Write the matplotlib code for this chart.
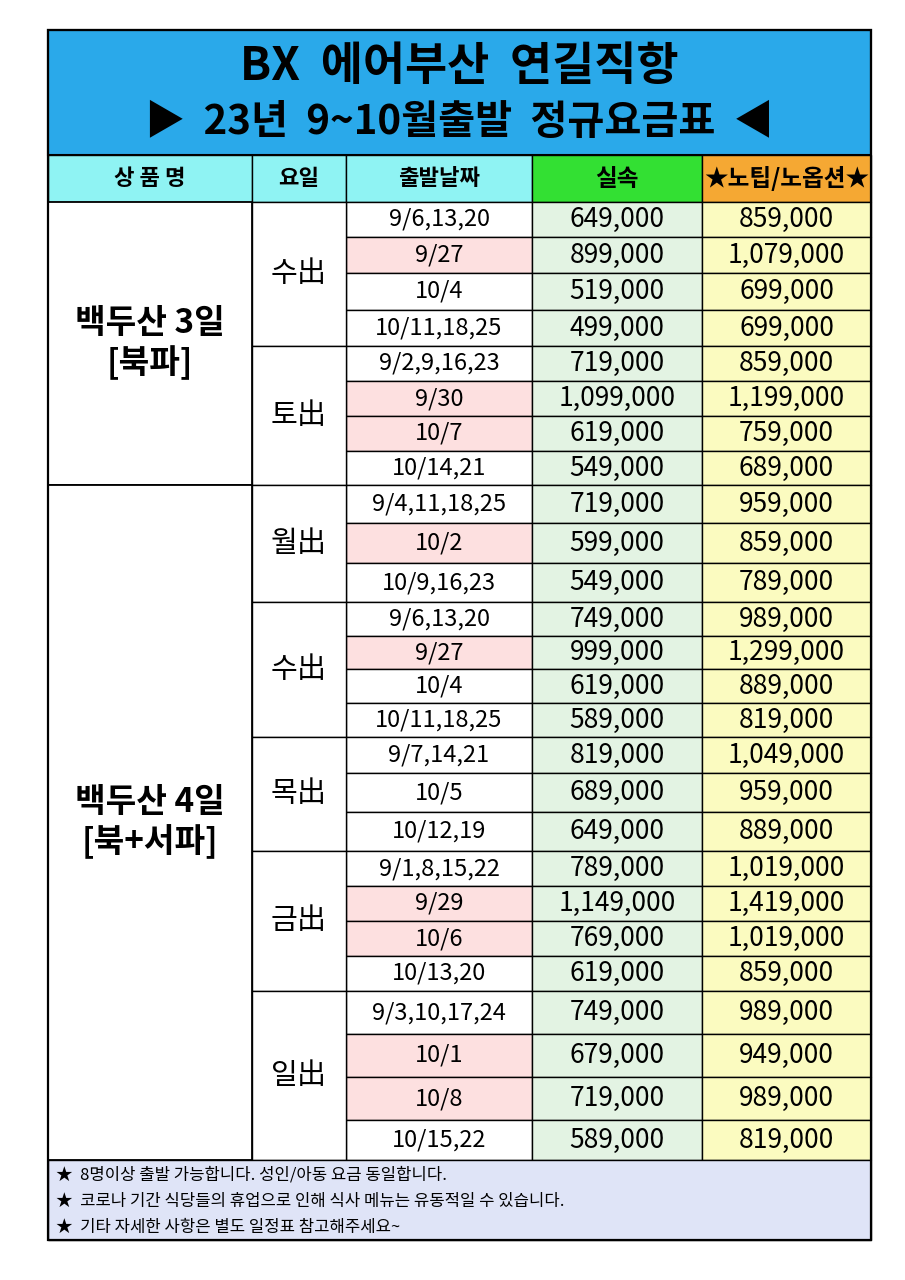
import matplotlib
matplotlib.use("Agg")
import matplotlib.pyplot as plt
from matplotlib.patches import Rectangle

plt.rcParams['font.family'] = ['Noto Sans CJK KR', 'DejaVu Sans']

title1 = "BX  에어부산  연길직항"
title2 = "▶  23년  9~10월출발  정규요금표  ◀"
headers = ["상 품 명", "요일", "출발날짜", "실속", "★노팁/노옵션★"]

products = ["백두산 3일\n[북파]", "백두산 4일\n[북+서파]"]
days = [["수出", "토出"], ["월出", "수出", "목出", "금出", "일出"]]
dates = [
    [["9/6,13,20", "9/27", "10/4", "10/11,18,25"],
     ["9/2,9,16,23", "9/30", "10/7", "10/14,21"]],
    [["9/4,11,18,25", "10/2", "10/9,16,23"],
     ["9/6,13,20", "9/27", "10/4", "10/11,18,25"],
     ["9/7,14,21", "10/5", "10/12,19"],
     ["9/1,8,15,22", "9/29", "10/6", "10/13,20"],
     ["9/3,10,17,24", "10/1", "10/8", "10/15,22"]],
]
silsok = [
    [[649000, 899000, 519000, 499000], [719000, 1099000, 619000, 549000]],
    [[719000, 599000, 549000], [749000, 999000, 619000, 589000],
     [819000, 689000, 649000], [789000, 1149000, 769000, 619000],
     [749000, 679000, 719000, 589000]],
]
notip = [
    [[859000, 1079000, 699000, 699000], [859000, 1199000, 759000, 689000]],
    [[959000, 859000, 789000], [989000, 1299000, 889000, 819000],
     [1049000, 959000, 889000], [1019000, 1419000, 1019000, 859000],
     [989000, 949000, 989000, 819000]],
]
pink = [
    [[0, 1, 0, 0], [0, 1, 1, 0]],
    [[0, 1, 0], [0, 1, 0, 0], [0, 0, 0], [0, 1, 1, 0], [0, 1, 1, 0]],
]
# row heights in pixels (layout)
heights = [
    [[35, 36, 37, 36], [35, 35, 35, 34]],
    [[38, 40, 39], [34, 33, 34, 34], [36, 39, 39], [35, 35, 35, 35], [43, 43, 43, 40]],
]
notes = ["★  8명이상 출발 가능합니다. 성인/아동 요금 동일합니다.",
         "★  코로나 기간 식당들의 휴업으로 인해 식사 메뉴는 유동적일 수 있습니다.",
         "★  기타 자세한 사항은 별도 일정표 참고해주세요~"]

W, H = 905, 1280
fig = plt.figure(figsize=(W / 100, H / 100), dpi=100)
ax = fig.add_axes([0, 0, 1, 1])
ax.set_xlim(0, W)
ax.set_ylim(H, 0)
ax.axis("off")

cols = [48, 252, 346, 532, 702, 871]
top, title_h, head_h = 30, 125, 47
lw = 1.0


def cell(x0, x1, y0, y1, fc, lw=lw):
    ax.add_patch(Rectangle((x0, y0), x1 - x0, y1 - y0, facecolor=fc, edgecolor="black", lw=lw))


def fmt(v):
    return "{:,}".format(v).replace(",", " , ").replace(" , ", ",")


# title
cell(cols[0], cols[-1], top, top + title_h, "#2aa9ea", lw=1.5)
ax.text((cols[0] + cols[-1]) / 2, top + 37, title1, ha="center", va="center", fontsize=33, fontweight="bold")
ax.text((cols[0] + cols[-1]) / 2, top + 93, title2, ha="center", va="center", fontsize=29, fontweight="bold")

# header
hy0 = top + title_h
hy1 = hy0 + head_h
hcolors = ["#8ff3f3", "#8ff3f3", "#8ff3f3", "#33e033", "#f5a833"]
for i, h in enumerate(headers):
    cell(cols[i], cols[i + 1], hy0, hy1, hcolors[i])
    ax.text((cols[i] + cols[i + 1]) / 2, (hy0 + hy1) / 2, h, ha="center", va="center",
            fontsize=16 if i < 3 else 17, fontweight="bold")

y = hy1
for g, prod in enumerate(products):
    gy0 = y
    for d, day in enumerate(days[g]):
        dy0 = y
        for r, dt in enumerate(dates[g][d]):
            h = heights[g][d][r]
            cell(cols[2], cols[3], y, y + h, "#fde0e0" if pink[g][d][r] else "white")
            cell(cols[3], cols[4], y, y + h, "#e3f3e3")
            cell(cols[4], cols[5], y, y + h, "#fbfbc0")
            cy = y + h / 2
            ax.text((cols[2] + cols[3]) / 2, cy, dt, ha="center", va="center", fontsize=17)
            ax.text((cols[3] + cols[4]) / 2, cy, fmt(silsok[g][d][r]), ha="center", va="center", fontsize=19)
            ax.text((cols[4] + cols[5]) / 2, cy, fmt(notip[g][d][r]), ha="center", va="center", fontsize=19)
            y += h
        cell(cols[1], cols[2], dy0, y, "white")
        ax.text((cols[1] + cols[2]) / 2, (dy0 + y) / 2, day, ha="center", va="center", fontsize=21)
    cell(cols[0], cols[1], gy0, y, "white", lw=1.3)
    ax.text((cols[0] + cols[1]) / 2, (gy0 + y) / 2, prod, ha="center", va="center",
            fontsize=24, fontweight="bold", linespacing=1.2)

# footer
cell(cols[0], cols[-1], y, 1240, "#dfe4f7")
for i, n in enumerate(notes):
    ax.text(cols[0] + 8, y + 15 + i * 26, n, ha="left", va="center", fontsize=12)

ax.add_patch(Rectangle((cols[0], top), cols[-1] - cols[0], 1240 - top, fill=False, edgecolor="black", lw=1.6))

fig.savefig("out.png", dpi=100)
